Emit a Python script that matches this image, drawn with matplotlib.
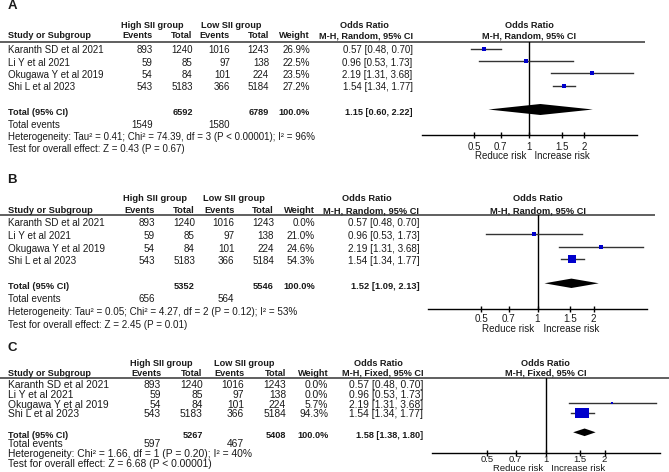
import matplotlib
matplotlib.use('Agg')
import matplotlib.pyplot as plt
from matplotlib.path import Path

plt.rcParams['font.family'] = ['Liberation Sans', 'DejaVu Sans']

W, H = 669, 472

# ---------------- data ----------------
studies = ['Karanth SD et al 2021', 'Li Y et al 2021', 'Okugawa Y et al 2019', 'Shi L et al 2023']
high_events = [893, 59, 54, 543]
high_total = [1240, 85, 84, 5183]
low_events = [1016, 97, 101, 366]
low_total = [1243, 138, 224, 5184]
odds_ratio = [0.57, 0.96, 2.19, 1.54]
ci_lower = [0.48, 0.53, 1.31, 1.34]
ci_upper = [0.70, 1.73, 3.68, 1.77]

panel_labels = ['A', 'B', 'C']
panel_methods = ['M-H, Random, 95% CI', 'M-H, Random, 95% CI', 'M-H, Fixed, 95% CI']
weights_A = [26.9, 22.5, 23.5, 27.2]
weights_B = [0.0, 21.0, 24.6, 54.3]
weights_C = [0.0, 0.0, 5.7, 94.3]
total_high = [6592, 5352, 5267]
total_low = [6789, 5546, 5408]
events_high = [1549, 656, 597]
events_low = [1580, 564, 467]
pooled_or = [1.15, 1.52, 1.58]
pooled_lower = [0.60, 1.09, 1.38]
pooled_upper = [2.22, 2.13, 1.80]
heterogeneity = [
    'Heterogeneity: Tau\u00b2 = 0.41; Chi\u00b2 = 74.39, df = 3 (P < 0.00001); I\u00b2 = 96%',
    'Heterogeneity: Tau\u00b2 = 0.05; Chi\u00b2 = 4.27, df = 2 (P = 0.12); I\u00b2 = 53%',
    'Heterogeneity: Chi\u00b2 = 1.66, df = 1 (P = 0.20); I\u00b2 = 40%',
]
overall_test = [
    'Test for overall effect: Z = 0.43 (P = 0.67)',
    'Test for overall effect: Z = 2.45 (P = 0.01)',
    'Test for overall effect: Z = 6.68 (P < 0.00001)',
]
tick_values = [0.5, 0.7, 1, 1.5, 2]
tick_labels = ['0.5', '0.7', '1', '1.5', '2']
x_limit = 3.85

# ---------------- layout (pixels) ----------------
layouts = [
    dict(title=6, h1=25, h2=36, line=42, row0=48.5, dy=12.4, tot=109.5, ev=125.3, het=137.3, test=149.3,
         name=8.3, he=152.7, ht=192.7, le=230, lt=269, w=310, orr=412.7, orh=364, hh=152.5, lh=231.5,
         left=421.7, right=636.7, axis=135, line_end=645, risk=155.7, dh=5.5,
         bw=0.165, bh=0.165, fs=7, fsb=6.6, tfs=7, tlen=5, pad=2.2, toff=1.8),
    dict(title=180, h1=198.3, h2=210.7, line=215, row0=221.3, dy=12.7, tot=283.3, ev=299.3, het=311.7, test=325,
         name=8.3, he=155, ht=195, le=234.3, lt=274, w=315, orr=419.3, orh=367, hh=155, lh=233.5,
         left=428.3, right=646.7, axis=309, line_end=655, risk=329, dh=4.7,
         bw=0.165, bh=0.165, fs=7.1, fsb=6.7, tfs=7.1, tlen=5, pad=1.0, toff=1.8),
    dict(title=348.3, h1=363.3, h2=373.3, line=378.3, row0=383.3, dy=9.8, tot=432.3, ev=444.3, het=453.7, test=463.7,
         name=8.3, he=161, ht=202.7, le=244.3, lt=286, w=328.3, orr=423.3, orh=378, hh=161, lh=243.8,
         left=431.7, right=660, axis=452.7, line_end=669, risk=468.3, dh=3.8,
         bw=0.152, bh=0.11, fs=7.4, fsb=6.6, tfs=6.8, tlen=4, pad=0, toff=1.7),
]
weights_all = [weights_A, weights_B, weights_C]
txt = '#1a1a1a'
box_color = '#0000CC'


def box_marker(w, h):
    return Path([(-w, -h), (w, -h), (w, h), (-w, h), (-w, -h)], closed=True)


fig = plt.figure(figsize=(W / 100, H / 100), dpi=100)
ax0 = fig.add_axes([0, 0, 1, 1])
ax0.set_xlim(0, W)
ax0.set_ylim(H, 0)
ax0.axis('off')

for p, L in enumerate(layouts):
    fs, fsb, t = L['fs'], L['fsb'], L['toff']
    weights = weights_all[p]

    ax0.text(L['name'] - 1, L['title'], panel_labels[p], fontsize=9.5, fontweight='bold', va='center', color=txt)

    # header rows
    ax0.text(L['hh'], L['h1'], 'High SII group', fontsize=fsb, fontweight='bold', ha='center', va='center', color=txt)
    ax0.text(L['lh'], L['h1'], 'Low SII group', fontsize=fsb, fontweight='bold', ha='center', va='center', color=txt)
    ax0.text(L['orh'], L['h1'], 'Odds Ratio', fontsize=fsb, fontweight='bold', ha='center', va='center', color=txt)
    ax0.text(L['name'], L['h2'], 'Study or Subgroup', fontsize=fsb, fontweight='bold', va='center', color=txt)
    for key, lab in [('he', 'Events'), ('ht', 'Total'), ('le', 'Events'), ('lt', 'Total'), ('w', 'Weight')]:
        ax0.text(L[key], L['h2'], lab, fontsize=fsb, fontweight='bold', ha='right', va='center', color=txt)
    ax0.text(L['orr'], L['h2'], panel_methods[p], fontsize=fsb, fontweight='bold', ha='right', va='center', color=txt)
    ax0.plot([0, L['line_end']], [L['line'], L['line']], color='#444444', lw=1.2, solid_capstyle='butt')

    # study rows
    for i, s in enumerate(studies):
        y = L['row0'] + i * L['dy'] + t
        ax0.text(L['name'], y, s, fontsize=fs, va='center', color=txt)
        ax0.text(L['he'], y, str(high_events[i]), fontsize=fs, ha='right', va='center', color=txt)
        ax0.text(L['ht'], y, str(high_total[i]), fontsize=fs, ha='right', va='center', color=txt)
        ax0.text(L['le'], y, str(low_events[i]), fontsize=fs, ha='right', va='center', color=txt)
        ax0.text(L['lt'], y, str(low_total[i]), fontsize=fs, ha='right', va='center', color=txt)
        ax0.text(L['w'], y, f'{weights[i]:.1f}%', fontsize=fs, ha='right', va='center', color=txt)
        ax0.text(L['orr'], y, f'{odds_ratio[i]:.2f} [{ci_lower[i]:.2f}, {ci_upper[i]:.2f}]',
                 fontsize=fs, ha='right', va='center', color=txt)

    # totals
    y = L['tot'] + t + 1
    ax0.text(L['name'], y, 'Total (95% CI)', fontsize=fsb, fontweight='bold', va='center', color=txt)
    ax0.text(L['ht'], y, str(total_high[p]), fontsize=fsb, fontweight='bold', ha='right', va='center', color=txt)
    ax0.text(L['lt'], y, str(total_low[p]), fontsize=fsb, fontweight='bold', ha='right', va='center', color=txt)
    ax0.text(L['w'], y, '100.0%', fontsize=fsb, fontweight='bold', ha='right', va='center', color=txt)
    ax0.text(L['orr'], y, f'{pooled_or[p]:.2f} [{pooled_lower[p]:.2f}, {pooled_upper[p]:.2f}]',
             fontsize=fsb, fontweight='bold', ha='right', va='center', color=txt)
    ax0.text(L['name'], L['ev'], 'Total events', fontsize=fs, va='center', color=txt)
    ax0.text(L['he'], L['ev'], str(events_high[p]), fontsize=fs, ha='right', va='center', color=txt)
    ax0.text(L['le'], L['ev'], str(events_low[p]), fontsize=fs, ha='right', va='center', color=txt)
    ax0.text(L['name'], L['het'], heterogeneity[p], fontsize=fs, va='center', color=txt)
    ax0.text(L['name'], L['test'], overall_test[p], fontsize=fs, va='center', color=txt)

    # forest plot
    ax = fig.add_axes([L['left'] / W, (H - L['axis']) / H, (L['right'] - L['left']) / W, (L['axis'] - L['line']) / H])
    ax.set_xscale('log')
    ax.set_xlim(1 / x_limit, x_limit)
    ax.set_ylim(L['axis'], L['line'])
    ax.patch.set_visible(False)
    for sp in ['top', 'left', 'right']:
        ax.spines[sp].set_visible(False)
    ax.spines['bottom'].set_linewidth(1.0)
    ax.set_yticks([])
    ax.set_xticks(tick_values)
    ax.set_xticklabels(tick_labels)
    ax.minorticks_off()
    ax.tick_params(axis='x', direction='inout', length=L['tlen'], width=1, pad=L['pad'],
                   labelsize=L['tfs'], labelcolor=txt)
    ax.axvline(1, color='black', lw=1)

    ax.text(1, L['h1'], 'Odds Ratio', fontsize=fsb, fontweight='bold', ha='center', va='center', color=txt)
    ax.text(1, L['h2'], panel_methods[p], fontsize=fsb, fontweight='bold', ha='center', va='center', color=txt)
    ax.text(1, L['risk'], 'Reduce risk ', fontsize=L['tfs'], ha='right', va='center', color=txt)
    ax.text(1, L['risk'], '  Increase risk', fontsize=L['tfs'], ha='left', va='center', color=txt)

    for i in range(len(studies)):
        if weights[i] <= 0:
            continue
        y = L['row0'] + i * L['dy']
        ax.plot([ci_lower[i], ci_upper[i]], [y, y], color='#333333', lw=1, clip_on=False)
        bw = max(1.2, L['bw'] * weights[i] / 2)
        bh = max(1.2, L['bh'] * weights[i] / 2)
        ax.plot([odds_ratio[i]], [y], marker=box_marker(bw, bh), linestyle='none',
                markersize=2 * max(bw, bh) * 72 / 100, color=box_color, markeredgewidth=0, clip_on=False)

    yd = L['tot']
    ax.fill([pooled_lower[p], pooled_or[p], pooled_upper[p], pooled_or[p]],
            [yd, yd - L['dh'], yd, yd + L['dh']], color='black', lw=0)

fig.savefig('out.png', dpi=100)
